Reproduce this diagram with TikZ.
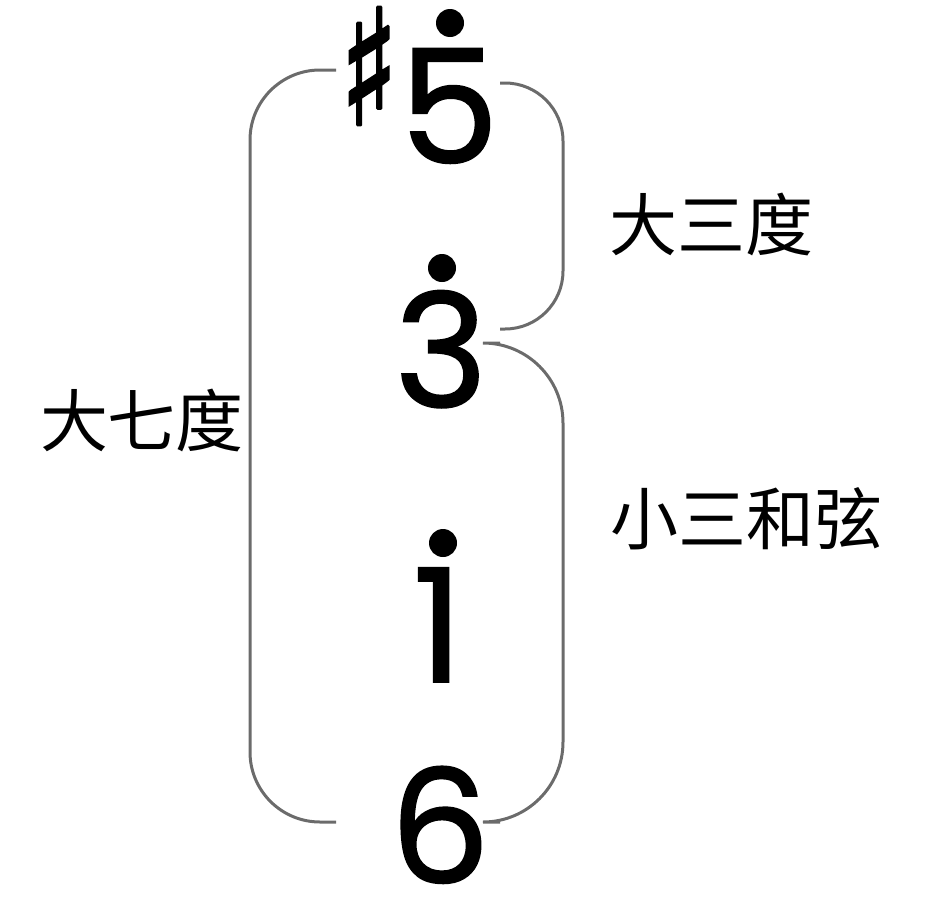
\documentclass[tikz,border=0pt]{standalone}
\usepackage{fontspec}
\setmainfont{Noto Sans CJK SC}
\newfontfamily\symfont[FakeBold=2.5]{DejaVu Sans}
\newfontfamily\notefont[FakeBold=1.2]{Poppins}
\usetikzlibrary{positioning}

\begin{document}
\begin{tikzpicture}[
        x=1pt, y=-1pt,
        note/.style={inner sep=0pt, anchor=base, font=\notefont\fontsize{158}{158}\selectfont},
        octdot/.style={circle, fill=black, inner sep=0pt, minimum size=28pt},
        label/.style={inner sep=0pt, font=\fontsize{68}{70}\selectfont},
        brace/.style={draw=black!58, line width=3pt, rounded corners=70pt}
    ]
    \useasboundingbox (0,0) rectangle (930,900);

    % notes of the chord
    \node[note] (five) at (449,163) {5};
    \node[note] (three) at (441,407) {3};
    \node[note] (one) at (438,682) {1};
    \node[note] (six) at (440,883) {6};

    % high octave dots
    \node[octdot] (dfive) at (450,23) {};
    \node[octdot] (dthree) at (442,268) {};
    \node[octdot] (done) at (443,543) {};

    % sharp sign
    \node[inner sep=0pt, font=\symfont\fontsize{160}{160}\selectfont] (sharp) at (369,66) {\scalebox{0.75}[1]{♯}};

    % interval labels
    \node[label] (major3) at (711,224) {大三度};
    \node[label] (major7) at (142,420) {大七度};
    \node[label] (minor3) at (746,519) {小三和弦};

    % brace ends
    \coordinate (ltop) at (336,70);
    \coordinate (lbot) at (336,822);
    \coordinate (rtop) at (500,83);
    \coordinate (rmid) at (500,329);
    \coordinate (rmidb) at (500,343);
    \coordinate (rbot) at (500,822);

    \draw[brace] (ltop) -- (250,70) -- (250,822) -- (lbot);
    \draw[brace, rounded corners=58pt] (rtop) -- (563,83) -- (563,329) -- (rmid);
    \draw[brace, rounded corners=80pt] (rmidb) -- (563,343) -- (563,822) -- (rbot);
\end{tikzpicture}
\end{document}
